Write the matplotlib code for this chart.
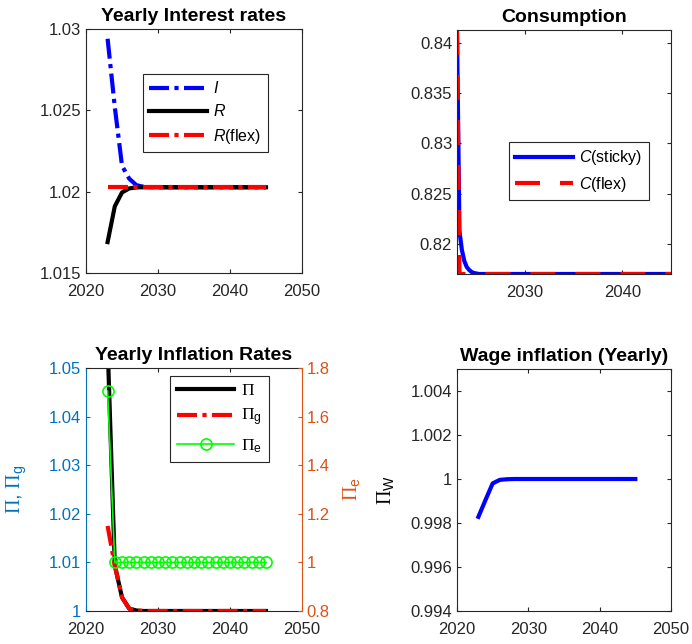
import numpy as np
import matplotlib
matplotlib.use('Agg')
import matplotlib.pyplot as plt
from matplotlib.ticker import FormatStrFormatter, FixedLocator

plt.rcParams['font.family'] = ['Liberation Sans', 'DejaVu Sans']
plt.rcParams['mathtext.fontset'] = 'custom'
plt.rcParams['mathtext.rm'] = 'Liberation Serif'
plt.rcParams['mathtext.it'] = 'Liberation Sans:italic'
plt.rcParams['mathtext.sf'] = 'Liberation Sans'

# ---------------- data ----------------
years = [2023, 2024, 2025, 2026, 2027, 2028, 2029, 2030, 2031, 2032, 2033, 2034,
         2035, 2036, 2037, 2038, 2039, 2040, 2041, 2042, 2043, 2044, 2045]

I_rate = [1.0294, 1.0252, 1.0216, 1.0208, 1.0204, 1.0203, 1.02028] + [1.02027] * 16
R_rate = [1.0169, 1.0191, 1.01995, 1.0202, 1.02026] + [1.02027] * 18
R_flex = [1.02027] * 23

quarters = list(np.arange(2023, 2045.001, 0.25))
C_sticky = [0.8413, 0.8213, 0.8194, 0.8183, 0.8177, 0.8174, 0.8172, 0.8171,
            0.81705] + [0.8170] * 80
C_flex = [0.8413] + [0.8170] * 88

Pi = [1.055, 1.0094, 1.0028, 1.0005, 1.0001] + [1.0] * 18
Pi_g = [1.0175, 1.0094, 1.0028, 1.0005, 1.0001] + [1.0] * 18
Pi_e = [1.705] + [1.0] * 22

Pi_W = [0.99828, 0.99905, 0.99980, 0.99996, 0.99999] + [1.0] * 18

titles = ['Yearly Interest rates', 'Consumption', 'Yearly Inflation Rates',
          'Wage inflation (Yearly)']

# ---------------- style ----------------
GRAY = '#262626'
BLUE_AX = '#0072BD'
ORANGE_AX = '#D95319'
TICK_FS = 12
TITLE_FS = 14
LEG_FS = 11.5
LW = 3.0
DASHDOT = (4.8, 1.3, 1.0, 1.3)


def style(ax, top=True, right=True):
    for s in ax.spines.values():
        s.set_color(GRAY)
        s.set_linewidth(0.8)
    ax.tick_params(direction='in', length=3, width=0.8, colors=GRAY,
                   labelsize=TICK_FS, top=top, right=right)
    ax.tick_params(axis='x', pad=8)


def legend(ax, handles, labels, anchor, fs=LEG_FS, hl=3.6, ls=0.45):
    lg = ax.legend(handles, labels, loc='upper left', bbox_to_anchor=anchor,
                   borderaxespad=0, fontsize=fs, handlelength=hl,
                   handletextpad=0.4, labelspacing=ls, borderpad=0.4,
                   fancybox=False, framealpha=1, edgecolor=GRAY)
    lg.get_frame().set_linewidth(0.8)
    return lg


fig = plt.figure(figsize=(6.92, 6.44), dpi=100)

# ---- Top-left: interest rates ----
ax1 = fig.add_axes([86 / 692, 1 - 273 / 644, 216 / 692, 244 / 644])
hI, = ax1.plot(years, I_rate, color='#0000FF', lw=LW, dashes=DASHDOT)
hR, = ax1.plot(years, R_rate, color='black', lw=LW)
hRf, = ax1.plot(years, R_flex, color='#FF0000', lw=LW, dashes=DASHDOT)
ax1.set_xlim(2020, 2050)
ax1.set_ylim(1.015, 1.03)
ax1.xaxis.set_major_locator(FixedLocator([2020, 2030, 2040, 2050]))
ax1.yaxis.set_major_locator(FixedLocator([1.015, 1.02, 1.025, 1.03]))
ax1.yaxis.set_major_formatter(FormatStrFormatter('%g'))
style(ax1)
ax1.set_title(titles[0], fontsize=TITLE_FS, fontweight='bold', pad=6)
legend(ax1, [hI, hR, hRf], [r'$\mathit{I}$', r'$\mathit{R}$', r'$\mathit{R}$(flex)'],
       (0.264, 0.816))

# ---- Top-right: consumption ----
ax2 = fig.add_axes([457 / 692, 1 - 274 / 644, 214 / 692, 244 / 644])
hCs, = ax2.plot(quarters, C_sticky, color='#0000FF', lw=LW)
hCf, = ax2.plot(quarters, C_flex, color='#FF0000', lw=LW, dashes=(6, 4.8))
ax2.set_xlim(quarters[0], quarters[-1])
ax2.set_ylim(min(C_sticky + C_flex), max(C_sticky + C_flex))
ax2.xaxis.set_major_locator(FixedLocator([2030, 2040]))
ax2.yaxis.set_major_locator(FixedLocator([0.82, 0.825, 0.83, 0.835, 0.84]))
ax2.yaxis.set_major_formatter(FormatStrFormatter('%g'))
style(ax2)
ax2.set_title(titles[1], fontsize=TITLE_FS, fontweight='bold', pad=6)
legend(ax2, [hCs, hCf], [r'$\mathit{C}$(sticky)', r'$\mathit{C}$(flex)'],
       (0.243, 0.541))

# ---- Bottom-left: inflation ----
ax3 = fig.add_axes([86 / 692, 1 - 611 / 644, 216 / 692, 243 / 644])
ax3b = ax3.twinx()
hP, = ax3.plot(years, Pi, color='black', lw=LW)
hPg, = ax3.plot(years, Pi_g, color='#FF0000', lw=LW, dashes=DASHDOT)
hPe, = ax3b.plot(years, Pi_e, color='#00FF00', lw=1.2, marker='o',
                 markersize=8, markerfacecolor='none', markeredgewidth=1.2)
ax3.set_xlim(2020, 2050)
ax3.set_ylim(1.0, 1.05)
ax3b.set_ylim(0.8, 1.8)
ax3.xaxis.set_major_locator(FixedLocator([2020, 2030, 2040, 2050]))
ax3.yaxis.set_major_locator(FixedLocator([1.0, 1.01, 1.02, 1.03, 1.04, 1.05]))
ax3.yaxis.set_major_formatter(FormatStrFormatter('%g'))
ax3b.yaxis.set_major_locator(FixedLocator([0.8, 1.0, 1.2, 1.4, 1.6, 1.8]))
ax3b.yaxis.set_major_formatter(FormatStrFormatter('%g'))
style(ax3, right=False)
for s in ax3b.spines.values():
    s.set_visible(False)
ax3b.spines['right'].set_visible(True)
ax3b.spines['right'].set_color(ORANGE_AX)
ax3b.spines['right'].set_linewidth(0.8)
ax3.spines['right'].set_visible(False)
ax3.spines['left'].set_color(BLUE_AX)
ax3.tick_params(axis='y', colors=BLUE_AX)
ax3b.tick_params(axis='y', direction='in', length=3, width=0.8,
                 colors=ORANGE_AX, labelsize=TICK_FS)
ax3.set_ylabel(r'$\Pi$, $\Pi_\mathsf{g}$', color=BLUE_AX, fontsize=14.5)
ax3.yaxis.set_label_coords(-0.265, 0.5)
ax3b.set_ylabel(r'$\Pi_\mathsf{e}$', color=ORANGE_AX, fontsize=14.5)
ax3b.yaxis.set_label_coords(1.185, 0.5)
ax3.set_title(titles[2], fontsize=TITLE_FS, fontweight='bold', pad=6)
legend(ax3b, [hP, hPg, hPe],
       [r'$\Pi$', r'$\Pi_\mathsf{g}$', r'$\Pi_\mathsf{e}$'], (0.389, 0.967),
       fs=12.5, hl=3.3, ls=0.5)

# ---- Bottom-right: wage inflation ----
ax4 = fig.add_axes([457 / 692, 1 - 611 / 644, 214 / 692, 242 / 644])
ax4.plot(years, Pi_W, color='#0000FF', lw=LW)
ax4.set_xlim(2020, 2050)
ax4.set_ylim(0.994, 1.005)
ax4.xaxis.set_major_locator(FixedLocator([2020, 2030, 2040, 2050]))
ax4.yaxis.set_major_locator(FixedLocator([0.994, 0.996, 0.998, 1.0, 1.002, 1.004]))
ax4.yaxis.set_major_formatter(FormatStrFormatter('%g'))
style(ax4)
ax4.set_ylabel(r'$\Pi_\mathsf{W}$', color='black', fontsize=14.5)
ax4.yaxis.set_label_coords(-0.28, 0.5)
ax4.set_title(titles[3], fontsize=TITLE_FS, fontweight='bold', pad=6)

fig.savefig('out.png', dpi=100)
